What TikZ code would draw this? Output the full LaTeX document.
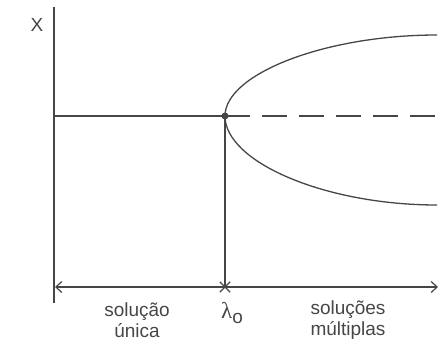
\documentclass[tikz,border=0pt]{standalone}
\usepackage{fontspec}
\setmainfont{Liberation Sans}
\newfontfamily\greekfont{Liberation Serif}
\definecolor{inkgray}{RGB}{70,70,70}
\usetikzlibrary{arrows.meta,shapes.misc}

\begin{document}
\begin{tikzpicture}[x=1pt,y=-1pt,color=inkgray,line width=1.2pt,
    lbl/.style={text=inkgray,font=\fontsize{19}{21}\selectfont,align=center},
    barb/.style={{Straight Barb[length=6pt,width=11pt]}-{Straight Barb[length=6pt,width=11pt]}},
    branch/.style={line width=1.3pt}]
  \useasboundingbox (0,0) rectangle (442,340);
  % axes
  \coordinate (top) at (54,7);
  \coordinate (bot) at (54,303);
  \coordinate (start) at (54,116);
  \coordinate (arl) at (55,287);
  \coordinate (arr) at (438,287);
  \coordinate (dashend) at (436,116);
  \coordinate (upend) at (437,35);
  \coordinate (lowend) at (437,205);
  \node[circle,fill=inkgray,inner sep=0pt,minimum size=7pt] (bif) at (225,116) {};
  \node[cross out,draw,line width=1.3pt,inner sep=0pt,minimum size=9pt] (lam) at (225,287) {};
  \draw (top) -- (bot);
  \draw[barb] (arl) -- (arr);
  \draw (start) -- (bif.center);
  \draw[dash pattern=on 25pt off 12pt] (bif.center) -- (dashend);
  \draw (bif.center) -- (lam.center);
  \draw[branch] (bif.center) .. controls (225,74) and (325,35) .. (upend);
  \draw[branch] (bif.center) .. controls (225,162) and (325,205) .. (lowend);
  % labels
  \node[lbl] (xlab) at (37,25) {X};
  \node[lbl] (unique) at (137,320) {solução\\única};
  \node[lbl,anchor=base] (lambda) at (232,318) {{\greekfont\fontsize{23}{23}\selectfont λ}\raisebox{-5pt}{o}};
  \node[lbl] (multiple) at (348,320) {soluções\\múltiplas};
\end{tikzpicture}
\end{document}
